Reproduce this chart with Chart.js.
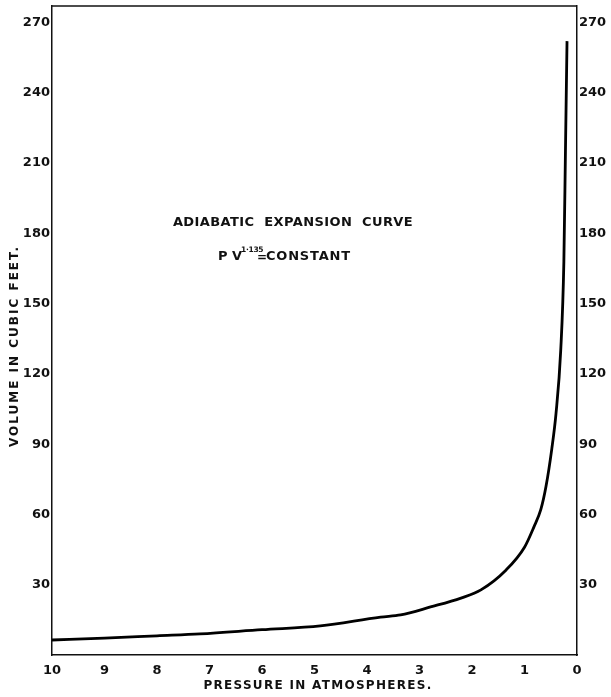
<!DOCTYPE html>
<html>
<head>
<meta charset="utf-8">
<script src="https://cdn.jsdelivr.net/npm/chart.js@4.4.1/dist/chart.umd.min.js"></script>
<style>
  body { margin: 0; background: #fff; }
  #wrap { width: 611px; height: 697px; position: relative; }
</style>
</head>
<body>
<div id="wrap"><canvas id="chart"></canvas></div>
<script>
// Pressure (atmospheres) and volume (cubic feet)
const pressure = [0.19, 0.22, 0.25, 0.31, 0.40, 0.48, 0.59, 0.69, 0.82, 1.0, 1.35, 1.83, 2.21, 2.79, 3.36, 3.74, 4.89, 6.0, 7.18, 8.0, 9.0, 10];
const volume   = [262, 215, 168, 130, 103, 88, 72, 62, 54.7, 46, 36.3, 27.8, 24.3, 20.5, 17.1, 16.2, 12.4, 10.8, 9.0, 8.2, 7.2, 6.4];
const volumeTicks = [30, 60, 90, 120, 150, 180, 210, 240, 270];

const INK = '#111';
const FONT = '"DejaVu Sans", sans-serif';

const points = pressure.map((p, i) => ({ x: p, y: volume[i] }));

function text(ctx, str, x, y, size, spacing) {
  ctx.font = 'bold ' + size + 'px ' + FONT;
  ctx.letterSpacing = (spacing || 0) + 'px';
  ctx.fillText(str, x, y);
}

// top edge of the frame + the printed texts
const decorations = {
  id: 'decorations',
  afterDraw(chart) {
    const { ctx, chartArea } = chart;
    ctx.save();
    ctx.strokeStyle = INK;
    ctx.lineWidth = 1.5;
    ctx.beginPath();
    ctx.moveTo(chartArea.left, chartArea.top);
    ctx.lineTo(chartArea.right, chartArea.top);
    ctx.stroke();

    ctx.fillStyle = INK;
    ctx.textBaseline = 'middle';
    ctx.textAlign = 'center';
    text(ctx, 'ADIABATIC  EXPANSION  CURVE', 293, 223, 13, 0.4);

    // P V^1·135 = CONSTANT
    ctx.textAlign = 'left';
    text(ctx, 'P V', 218, 257, 13, 0);
    text(ctx, '1·135', 241, 250, 7.5, -0.3);
    text(ctx, '=', 257, 258, 12, 0);
    text(ctx, 'CONSTANT', 266, 257, 13, 0.8);

    // axis titles
    ctx.textAlign = 'center';
    text(ctx, 'PRESSURE IN ATMOSPHERES.', 318, 686, 12, 1.3);
    ctx.translate(15, 346);
    ctx.rotate(-Math.PI / 2);
    text(ctx, 'VOLUME IN CUBIC FEET.', 0, 0, 12, 2);
    ctx.restore();
  }
};

const yTicksOpts = {
  color: INK,
  font: { family: FONT, size: 13, weight: 'bold' },
  padding: 2
};

function fitY(width) {
  return scale => {
    scale.width = width;
    scale.paddingTop = 0;
    scale.paddingBottom = 0;
  };
}

new Chart(document.getElementById('chart'), {
  type: 'line',
  data: {
    datasets: [{
      data: points,
      borderColor: '#000',
      borderWidth: 2.8,
      pointRadius: 0,
      fill: false,
      cubicInterpolationMode: 'monotone'
    }]
  },
  options: {
    responsive: true,
    maintainAspectRatio: false,
    animation: false,
    layout: { padding: { top: 6, left: 0, right: 0, bottom: 0 } },
    plugins: { legend: { display: false }, tooltip: { enabled: false } },
    scales: {
      x: {
        type: 'linear',
        reverse: true,
        min: 0,
        max: 10,
        grid: { display: false, drawTicks: false },
        border: { display: true, color: INK, width: 1.5 },
        ticks: {
          stepSize: 1,
          color: INK,
          font: { family: FONT, size: 13, weight: 'bold' },
          padding: 8,
          maxRotation: 0
        },
        afterFit(scale) { scale.height = 42; }
      },
      y: {
        position: 'left',
        min: 0,
        max: 277,
        grid: { display: false, drawTicks: false },
        border: { display: true, color: INK, width: 1.5 },
        ticks: yTicksOpts,
        afterBuildTicks(scale) { scale.ticks = volumeTicks.map(v => ({ value: v })); },
        afterFit: fitY(52)
      },
      y1: {
        position: 'right',
        min: 0,
        max: 277,
        grid: { display: false, drawTicks: false },
        border: { display: true, color: INK, width: 1.5 },
        ticks: yTicksOpts,
        afterBuildTicks(scale) { scale.ticks = volumeTicks.map(v => ({ value: v })); },
        afterFit: fitY(34)
      }
    }
  },
  plugins: [decorations]
});
</script>
</body>
</html>
